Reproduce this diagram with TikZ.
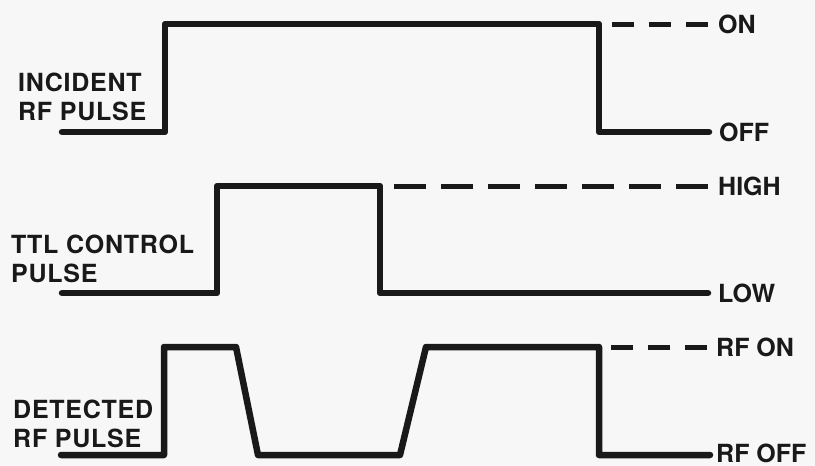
\documentclass[tikz,border=0pt]{standalone}
\usepackage{fontspec}
\setmainfont{TeX Gyre Heros}
\newfontfamily\lblfont[LetterSpace=3]{TeX Gyre Heros}
\begin{document}
\begin{tikzpicture}[x=1pt,y=-1pt,
  trace/.style={line width=6.5pt,line cap=round,line join=round,draw=black!90},
  dashline/.style={line width=5pt,draw=black!90,dash pattern=on 22pt off 15pt},
  dashlong/.style={line width=5pt,draw=black!90,dash pattern=on 32pt off 15pt},
  lbl/.style={font=\lblfont\fontsize{25}{29}\selectfont\bfseries,align=left,anchor=north west,inner sep=0pt,text=black!90},
  lvl/.style={font=\fontsize{25}{28.5}\selectfont\bfseries,anchor=west,inner sep=0pt,text=black!90}]
\fill[black!3] (0,0) rectangle (815,466);
\useasboundingbox (0,0) rectangle (815,466);
% labels
\node[lbl] (inc) at (18,73) {INCIDENT\\RF PULSE};
\node[lbl] (ttl) at (11,235) {TTL CONTROL\\PULSE};
\node[lbl] (det) at (13,400) {DETECTED\\RF PULSE};
\node[lvl] (on) at (718,24) {ON};
\node[lvl] (off) at (719,132) {OFF};
\node[lvl] (high) at (718,186) {HIGH};
\node[lvl] (low) at (718,293) {LOW};
\node[lvl] (rfon) at (716,347) {RF ON};
\node[lvl] (rfoff) at (716,453) {RF OFF};
% incident RF pulse
\coordinate (a0) at (62,132);
\draw[trace] (a0) -- (165,132) -- (165,24) -- (599,24) -- (599,132) -- ([xshift=-10pt]off.west);
\draw[dashline] (612,24) -- ([xshift=-6pt]on.west);
% TTL control pulse
\coordinate (b0) at (62,293);
\draw[trace] (b0) -- (217,293) -- (217,186) -- (380,186) -- (380,293) -- ([xshift=-10pt]low.west);
\draw[dashlong] (394,186) -- ([xshift=-8pt]high.west);
% detected RF pulse
\coordinate (c0) at (61,455);
\draw[trace] (c0) -- (164,455) -- (164,347) -- (236,347) -- (258,455) -- (400,455) -- (426,347) -- (599,347) -- (599,455) -- ([xshift=-6pt]rfoff.west |- c0);
\draw[dashline] (611,347) -- ([xshift=-4pt]rfon.west);
\end{tikzpicture}
\end{document}
